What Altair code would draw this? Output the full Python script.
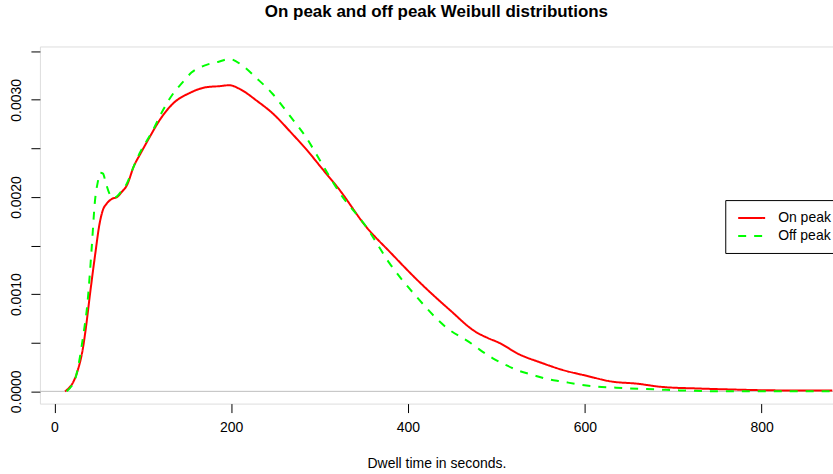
import altair as alt
import pandas as pd

# On peak (red, solid)
on_x = [12, 16, 21, 26.5, 32, 36, 40, 46, 51, 55, 59, 65, 71, 76, 82, 90, 97, 108, 119, 134,
        153, 172, 186, 198, 210, 229, 247, 269, 285, 303, 322, 353, 380, 410, 447, 477, 490,
        503, 526, 549, 575, 602, 631, 658, 688, 726, 763, 820, 880]
on_y = [0.0, 0.00003, 0.00009, 0.00022, 0.00043, 0.00068, 0.00098, 0.0014, 0.00172, 0.00187,
        0.00193, 0.00198, 0.00200, 0.00205, 0.00212, 0.00232, 0.00244, 0.00262, 0.00279, 0.00296,
        0.00307, 0.00313, 0.00314, 0.00315, 0.00311, 0.00299, 0.00286, 0.00265, 0.00249, 0.00229,
        0.00208, 0.00169, 0.00143, 0.00115, 0.00084, 0.00061, 0.00055, 0.00050, 0.00038, 0.00030,
        0.00022, 0.00016, 0.00010, 0.00008, 0.000045, 0.00003, 0.00002, 0.00001, 0.00001]

# Off peak (green, dashed)
off_x = [14, 19, 24, 29, 33, 37, 42, 46, 49, 52, 55, 58, 62, 66, 70, 75, 82, 90, 97, 111, 122,
         134, 145, 155, 172, 185, 198, 213, 229, 247, 266, 285, 297, 306, 323, 353, 379, 410,
         443, 472, 481, 496, 511, 526, 541, 556, 575, 594, 613, 631, 650, 680, 707, 760, 880]
off_y = [0.0, 0.00005, 0.00014, 0.00036, 0.00060, 0.00087, 0.00145, 0.00197, 0.00215, 0.00225,
         0.00224, 0.00215, 0.00204, 0.00199, 0.00200, 0.00205, 0.00214, 0.00232, 0.00246, 0.00268,
         0.00288, 0.00306, 0.00318, 0.00328, 0.00336, 0.00339, 0.00342, 0.00335, 0.00322, 0.00306,
         0.00284, 0.00261, 0.00243, 0.00229, 0.00204, 0.00169, 0.00132, 0.00097, 0.00066, 0.00049,
         0.00043, 0.00034, 0.00027, 0.00021, 0.00017, 0.00013, 0.00010, 0.00007, 0.00005, 0.00004,
         0.00003, 0.00002, 0.00001, 0.0, 0.0]

series = ["On peak", "Off peak"]
x_ticks = [0, 200, 400, 600, 800]
y_ticks = [0, 0.0005, 0.001, 0.0015, 0.002, 0.0025, 0.003, 0.0035]

df = pd.concat([
    pd.DataFrame({"x": on_x, "y": on_y, "s": series[0], "o": range(len(on_x))}),
    pd.DataFrame({"x": off_x, "y": off_y, "s": series[1], "o": range(len(off_x))}),
])

FONT = "Liberation Sans"
FS = 14

xscale = alt.Scale(domain=[-16.4, 880.8], nice=False, zero=False)
yscale = alt.Scale(domain=[-0.000126, 0.003549], nice=False, zero=False)

legend_opts = dict(title=None, orient="none", legendX=687, legendY=154,
                   strokeColor="#000", fillColor="#fff", padding=10, rowPadding=3,
                   symbolType="M-0.72,0H3.14", symbolSize=196, symbolStrokeWidth=2,
                   labelOffset=27, labelFontSize=FS, labelFont=FONT, labelColor="#000")

zero = alt.Chart(pd.DataFrame({"y": [0.0]})).mark_rule(color="#bebebe", strokeWidth=1).encode(
    y=alt.Y("y:Q", scale=yscale)
)

lines = alt.Chart(df).mark_line(strokeWidth=2, clip=True, interpolate="monotone").encode(
    x=alt.X("x:Q", scale=xscale,
            axis=alt.Axis(values=x_ticks, format="d", title="Dwell time in seconds.",
                          tickSize=9, labelPadding=8, labelFontSize=FS, titleFontSize=FS,
                          titleFontWeight="normal", titleY=60, titleBaseline="middle",
                          domain=False, grid=False, tickColor="#000", labelColor="#000",
                          titleColor="#000", labelFont=FONT, titleFont=FONT)),
    y=alt.Y("y:Q", scale=yscale,
            axis=alt.Axis(values=y_ticks, title=None, tickSize=9, labelPadding=7,
                          labelAngle=270, labelFontSize=FS, labelFont=FONT, labelColor="#000",
                          labelExpr="abs(datum.value*1000 - round(datum.value*1000)) < 1e-6 ? format(datum.value, '.4f') : ''",
                          domain=False, grid=False, tickColor="#000")),
    color=alt.Color("s:N", scale=alt.Scale(domain=series, range=["#ff0000", "#00ff00"]),
                    legend=alt.Legend(**legend_opts)),
    strokeDash=alt.StrokeDash("s:N", scale=alt.Scale(domain=series, range=[[1, 0], [8, 8]]),
                              legend=alt.Legend(**legend_opts)),
    order="o:Q",
)

chart = alt.layer(zero, lines).properties(
    width=795, height=358,
    autosize=alt.AutoSizeParams(type="none"),
    padding={"left": 40, "top": 46, "right": 0, "bottom": 70},
    title=alt.TitleParams("On peak and off peak Weibull distributions", anchor="middle",
                          frame="group", fontSize=17, font=FONT, fontWeight="bold",
                          color="#000", offset=26),
).configure_view(stroke="#222", strokeWidth=1).configure(background="white")

chart.save("out.html", embed_options={"renderer": "svg", "actions": False})
